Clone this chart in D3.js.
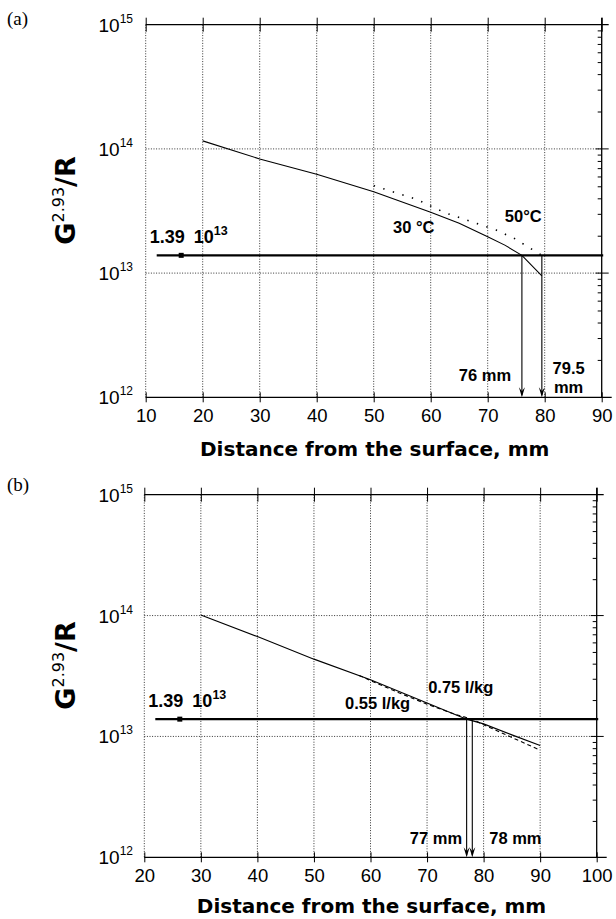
<!DOCTYPE html>
<html><head><meta charset="utf-8">
<script src="https://cdn.jsdelivr.net/npm/d3@7"></script>
<style>body{margin:0;background:#fff}</style>
</head><body><svg id="c" width="616" height="919"></svg>
<script>
// ---------- data ----------
const xTicksA = [10, 20, 30, 40, 50, 60, 70, 80, 90];
const xTicksB = [20, 30, 40, 50, 60, 70, 80, 90, 100];
const yDecades = [12, 13, 14, 15];
const threshold = 1.39e13;

const distA30 = [20, 30, 40, 50, 60, 65, 70, 73, 76, 79.5];
const valA30  = [1.16e14, 8.3e13, 6.24e13, 4.52e13, 3.09e13, 2.52e13, 1.96e13, 1.68e13, 1.39e13, 0.95e13];
const distA50 = [50, 57.5, 62.5, 68, 71.5, 75, 76.8, 78.8, 79.5];
const valA50  = [5.06e13, 3.93e13, 3.06e13, 2.52e13, 2.22e13, 1.87e13, 1.65e13, 1.46e13, 1.39e13];

const distB075 = [30, 40, 50, 60, 70, 77, 80, 85, 90];
const valB075  = [1.01e14, 6.7e13, 4.36e13, 2.94e13, 1.89e13, 1.39e13, 1.27e13, 1.03e13, 8.4e12];
const distB055 = [58, 60, 65, 70, 75, 78, 80, 85, 90];
const valB055  = [3.2e13, 2.9e13, 2.3e13, 1.85e13, 1.52e13, 1.39e13, 1.25e13, 0.98e13, 7.7e12];

const arrowsA = [76, 79.5];
const arrowsB = [77, 78];

// ---------- drawing ----------
const svg = d3.select('#c');
const TICKFONT = "'Liberation Sans', Arial, sans-serif";
const BOLD = "'Liberation Sans', Arial, sans-serif";

function drawPanel(p) {
  const x = d3.scaleLinear().domain(p.xDomain).range(p.xRange);
  const y = d3.scaleLog().domain([1e12, 1e15]).range(p.yRange);
  const [x0, x1] = p.xRange;
  const [yb, yt] = p.yRange;
  const g = svg.append('g');

  // dotted grid
  g.selectAll('line.vg').data(p.xTicks.slice(0, -1)).join('line').attr('class', 'vg')
    .attr('x1', d => x(d)).attr('x2', d => x(d)).attr('y1', yt).attr('y2', yb)
    .attr('stroke', '#000').attr('stroke-width', 0.8).attr('stroke-dasharray', '1,1.6');
  g.selectAll('line.hg').data([1e13, 1e14]).join('line').attr('class', 'hg')
    .attr('x1', x0).attr('x2', x1).attr('y1', d => y(d)).attr('y2', d => y(d))
    .attr('stroke', '#000').attr('stroke-width', 0.8).attr('stroke-dasharray', '1,1.6');

  // bottom axis
  const bax = g.append('g').attr('transform', `translate(0,${yb})`)
    .call(d3.axisBottom(x).tickValues(p.xTicks).tickSize(5).tickSizeOuter(0));
  bax.select('.domain').remove();
  bax.selectAll('.tick line').attr('y1', -5).attr('y2', 5).attr('stroke', '#000');
  bax.selectAll('.tick text').attr('y', 25).attr('dy', null)
    .style('font-family', TICKFONT).style('font-size', '18.5px').attr('fill', '#000');
  g.append('line').attr('x1', x0).attr('x2', x1 + 10).attr('y1', yb).attr('y2', yb)
    .attr('stroke', '#000').attr('stroke-width', 1.3);

  // top axis
  const tax = g.append('g').attr('transform', `translate(0,${yt})`)
    .call(d3.axisTop(x).tickValues(p.xTicks).tickSize(7).tickSizeOuter(0).tickFormat(''));
  tax.select('.domain').remove();
  tax.selectAll('.tick line').attr('y1', -7).attr('y2', 7).attr('stroke', '#000');
  g.append('line').attr('x1', x0).attr('x2', x1 + 7).attr('y1', yt).attr('y2', yt)
    .attr('stroke', '#000').attr('stroke-width', 1.3);

  // right axis: minor ticks inside, majors crossing
  const minors = [];
  yDecades.slice(0, -1).forEach(e => { for (let m = 2; m <= 9; m++) minors.push(m * Math.pow(10, e)); });
  const rax = g.append('g').attr('transform', `translate(${x1},0)`)
    .call(d3.axisLeft(y).tickValues(minors).tickSize(4).tickSizeOuter(0).tickFormat(''));
  rax.select('.domain').remove();
  rax.selectAll('.tick line').attr('stroke', '#000');
  const majors = yDecades.slice(1, -1).map(e => Math.pow(10, e));
  g.selectAll('line.maj').data(majors).join('line').attr('class', 'maj')
    .attr('x1', x1 - 6).attr('x2', x1 + 7).attr('y1', d => y(d)).attr('y2', d => y(d))
    .attr('stroke', '#000').attr('stroke-width', 1);
  g.append('line').attr('x1', x1).attr('x2', x1).attr('y1', yt - 7).attr('y2', yb)
    .attr('stroke', '#000').attr('stroke-width', 1.3);

  // y tick labels (left, no axis line)
  const yl = g.selectAll('text.yl').data(yDecades).join('text').attr('class', 'yl')
    .attr('x', 133).attr('y', d => y(Math.pow(10, d)) + 7)
    .attr('text-anchor', 'end').style('font-family', TICKFONT).style('font-size', '19px');
  yl.append('tspan').text('10');
  yl.append('tspan').attr('dy', -9).style('font-size', '12px').text(d => d);

  // threshold line
  const ty = y(threshold);
  g.append('line').attr('x1', x0 + 11).attr('x2', x1 + 1.5).attr('y1', ty).attr('y2', ty)
    .attr('stroke', '#000').attr('stroke-width', 2.4);
  g.append('rect').attr('x', x0 + 33).attr('y', ty - 2.5).attr('width', 5).attr('height', 5).attr('fill', '#000');
  const tl = g.append('text').attr('x', x0 + 4).attr('y', ty - 12)
    .style('font-family', BOLD).style('font-weight', 'bold').style('font-size', '18px');
  tl.append('tspan').text('1.39');
  tl.append('tspan').attr('dx', 9).text('10');
  tl.append('tspan').attr('dy', -8).style('font-size', '12.5px').text('13');

  // curves
  const line = d3.line().x(d => x(d[0])).y(d => y(d[1]));
  p.series.forEach(s => {
    g.append('path').datum(d3.zip(s.x, s.v)).attr('d', line)
      .attr('fill', 'none').attr('stroke', '#000').attr('stroke-width', s.w)
      .attr('stroke-dasharray', s.dash || null);
  });

  // arrows
  p.arrows.forEach(a => {
    const ax = x(a);
    g.append('line').attr('x1', ax).attr('x2', ax).attr('y1', ty).attr('y2', yb - 2)
      .attr('stroke', '#000').attr('stroke-width', 1.1);
    g.append('path').attr('d', `M${ax - 3},${yb - 10} L${ax},${yb} L${ax + 3},${yb - 10} L${ax},${yb - 6} Z`)
      .attr('fill', '#000');
  });

  // annotations
  p.notes.forEach(n => {
    g.append('text').attr('x', x(n.x)).attr('y', y(n.v)).attr('text-anchor', n.anchor || 'start')
      .style('font-family', BOLD).style('font-weight', 'bold').style('font-size', '16.5px')
      .text(n.t);
  });

  // axis titles
  g.append('text').attr('x', (x0 + x1) / 2 + 1).attr('y', yb + p.titleOff)
    .attr('text-anchor', 'middle').style('font-family', "'DejaVu Sans', sans-serif")
    .style('font-weight', 'bold').style('font-size', '20px').text('Distance from the surface, mm');
  const yc = (yb + yt) / 2 - 10.5;
  const yt_ = g.append('text').attr('transform', `translate(75,${yc}) rotate(-90)`)
    .attr('text-anchor', 'middle').style('font-family', "'DejaVu Sans', sans-serif")
    .style('font-weight', 'bold').style('font-size', '27px');
  yt_.append('tspan').text('G');
  yt_.append('tspan').attr('dy', -11).style('font-size', '16px').style('font-weight', 'normal').text('2.93');
  yt_.append('tspan').attr('dy', 11).text('/R');

  // panel label
  svg.append('text').attr('x', 7).attr('y', p.labelY)
    .style('font-family', "'Liberation Serif', 'Times New Roman', serif").style('font-size', '19px')
    .text(p.label);
}

drawPanel({
  xDomain: [10, 90], xRange: [145.7, 601.7], yRange: [397.3, 24.7], xTicks: xTicksA,
  series: [
    { x: distA30, v: valA30, w: 1.1 },
    { x: distA50, v: valA50, w: 1.6, dash: '1.4,8.6' }
  ],
  arrows: arrowsA,
  notes: [
    { x: 53.4, v: 2.1e13, t: '30 °C' },
    { x: 73.0, v: 2.6e13, t: '50°C' },
    { x: 74.1, v: 1.36e12, t: '76 mm', anchor: 'end' },
    { x: 84.2, v: 1.54e12, t: '79.5', anchor: 'middle' },
    { x: 84.2, v: 1.08e12, t: 'mm', anchor: 'middle' }
  ],
  titleOff: 59,
  label: '(a)', labelY: 25
});

drawPanel({
  xDomain: [20, 100], xRange: [144.3, 596.7], yRange: [857.3, 494.7], xTicks: xTicksB,
  series: [
    { x: distB075, v: valB075, w: 1.1 },
    { x: distB055, v: valB055, w: 1.1, dash: '4,3' }
  ],
  arrows: arrowsB,
  notes: [
    { x: 70.2, v: 2.28e13, t: '0.75 l/kg' },
    { x: 55.5, v: 1.69e13, t: '0.55 l/kg' },
    { x: 76.2, v: 1.29e12, t: '77 mm', anchor: 'end' },
    { x: 81.0, v: 1.29e12, t: '78 mm' }
  ],
  titleOff: 55.5,
  label: '(b)', labelY: 491
});
</script>
</body></html>
